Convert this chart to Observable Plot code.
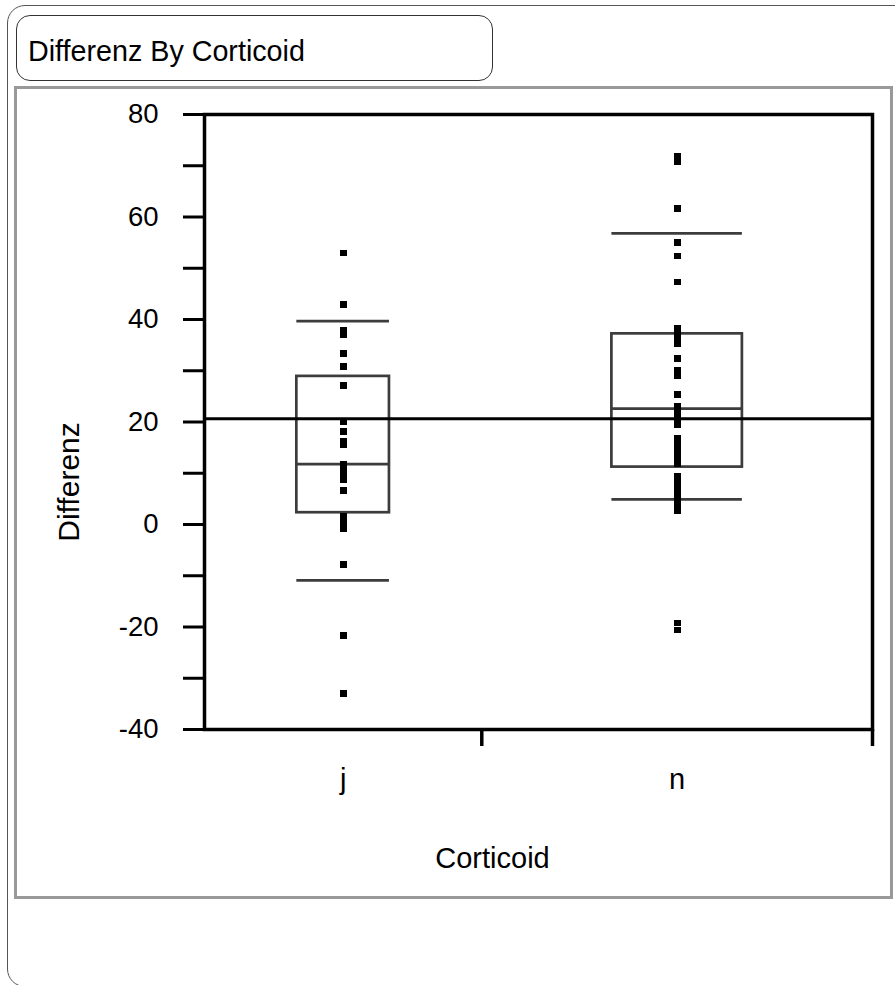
<!DOCTYPE html>
<html><head><meta charset="utf-8">
<script src="https://cdn.jsdelivr.net/npm/d3@7"></script>
<script src="https://cdn.jsdelivr.net/npm/@observablehq/plot@0.6"></script>
<style>
body{margin:0;background:#fff;font-family:"Liberation Sans",Arial,sans-serif;}
#wrap{position:relative;width:895px;height:985px;overflow:hidden;background:#fff;}
.outer{position:absolute;left:7px;top:5px;width:940px;height:982px;border:1.5px solid #555;border-radius:18px;box-sizing:border-box;}
.titlebox{position:absolute;left:16px;top:15px;width:477px;height:66px;border:1px solid #333;border-radius:14px;box-sizing:border-box;}
.title{position:absolute;left:28px;top:37px;font-size:28.7px;line-height:1;color:#000;white-space:nowrap;}
.panel{position:absolute;left:14px;top:86px;width:879px;height:813px;border:3px solid #999;box-sizing:border-box;background:#fff;}
#chart{position:absolute;left:0;top:0;}
</style></head>
<body>
<div id="wrap">
  <div class="outer"></div>
  <div class="titlebox"></div>
  <div class="title">Differenz By Corticoid</div>
  <div class="panel"></div>
  <div id="chart"></div>
</div>
<script>
// ---- data ----
const categories = ["j", "n"];
const jValues = [53.0, 42.9, 37.8, 37.1, 33.3, 30.8, 27.1, 20.1, 18.1, 16.2, 15.6,
  11.8, 10.8, 9.7, 8.7, 6.7, 1.6, 0.4, -0.9, -7.8, -21.7, -33.0];
const nValues = [71.8, 70.8, 61.7, 55.0, 52.4, 47.3, 38.3, 37.3, 36.3, 35.2, 32.4,
  30.0, 29.0, 25.3, 23.0, 21.9, 20.7, 19.5, 16.9, 15.6, 14.4, 13.1, 11.8,
  9.3, 8.0, 6.7, 5.4, 4.1, 2.8, -19.2, -20.6];
const q10 = [-10.9, 4.9];
const q25 = [2.3, 11.2];
const q50 = [11.8, 22.6];
const q75 = [28.9, 37.2];
const q90 = [39.7, 56.8];
const yTicks = [-40, -30, -20, -10, 0, 10, 20, 30, 40, 50, 60, 70, 80];
const yTickLabels = [-40, -20, 0, 20, 40, 60, 80];

// ---- derived tables ----
const groups = [jValues, nValues];
const counts = groups.map(g => g.length);
const starts = counts.map((c, i) => d3.sum(counts.slice(0, i)));
const total = d3.sum(counts);
const half = 0.167;
const boxes = categories.map((c, i) => ({
  cat: c,
  center: starts[i] + counts[i] / 2,
  x1: starts[i] + counts[i] * (0.5 - half),
  x2: starts[i] + counts[i] * (0.5 + half),
  q10: q10[i], q25: q25[i], q50: q50[i], q75: q75[i], q90: q90[i]
}));
const points = groups.flatMap((g, i) => g.map(v => ({cat: categories[i], x: starts[i] + counts[i] / 2, y: v})));
const grandMean = d3.mean(points, d => d.y);
const boxStroke = "#3c3c3c";

const chart = Plot.plot({
  width: 895,
  height: 985,
  marginLeft: 204,
  marginRight: 23,
  marginTop: 114,
  marginBottom: 256,
  x: {domain: [0, total]},
  y: {domain: [-40, 80]},
  style: {fontFamily: "'Liberation Sans', Arial, sans-serif", fontSize: "27px", background: "transparent", overflow: "visible", color: "black"},
  marks: [
    Plot.rect(boxes, {x1: "x1", x2: "x2", y1: "q25", y2: "q75", fill: "none", stroke: boxStroke, strokeWidth: 2.7}),
    Plot.ruleY(boxes, {y: "q50", x1: "x1", x2: "x2", stroke: boxStroke, strokeWidth: 2.7}),
    Plot.ruleY(boxes, {y: "q10", x1: "x1", x2: "x2", stroke: boxStroke, strokeWidth: 2.7}),
    Plot.ruleY(boxes, {y: "q90", x1: "x1", x2: "x2", stroke: boxStroke, strokeWidth: 2.7}),
    Plot.ruleY([grandMean], {stroke: "black", strokeWidth: 3}),
    Plot.dot(points, {x: "x", y: "y", symbol: "square", r: 3.8, fill: "black", stroke: "none", shapeRendering: "crispEdges"}),
    Plot.axisY({ticks: yTicks, tickSize: 21, tickPadding: 25, strokeWidth: 3, color: "black",
      tickFormat: d => yTickLabels.includes(d) ? String(d) : "", fontSize: 27.5, label: null}),
    Plot.axisX({ticks: [starts[1], total], tickSize: 17, strokeWidth: 3.5, tickFormat: () => "", label: null}),
    Plot.frame({stroke: "black", strokeWidth: 3.5}),
    Plot.text(boxes, {x: "center", text: "cat", frameAnchor: "bottom", dy: 59, lineAnchor: "bottom", fontSize: 29, fill: "black"}),
    Plot.text(["Corticoid"], {text: d => d, frameAnchor: "bottom-left", dx: 288, dy: 138, lineAnchor: "bottom", textAnchor: "middle", fontSize: 29, fill: "black"}),
    Plot.text(["Differenz"], {text: d => d, frameAnchor: "left", dx: -126, dy: 60, rotate: -90, lineAnchor: "bottom", textAnchor: "middle", fontSize: 30, fill: "black"})
  ]
});
document.getElementById("chart").appendChild(chart);
</script>
</body></html>
